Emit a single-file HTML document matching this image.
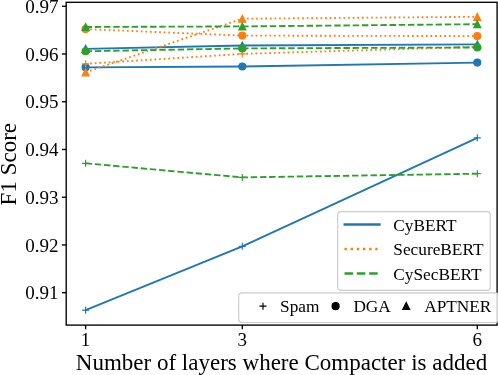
<!DOCTYPE html>
<html><head><meta charset="utf-8"><style>
html,body{margin:0;padding:0;background:#fff;}
svg{display:block;will-change:transform;}
text{font-family:"Liberation Serif",serif;fill:#000;}
.tk{font-size:19px;}
.lb{font-size:23px;}
.lg{font-size:17.3px;}
</style></head><body>
<svg width="498" height="375" viewBox="0 0 498 375">
<defs><clipPath id="ax"><rect x="66.2" y="2.3" width="430.90000000000003" height="322.8"/></clipPath></defs>
<rect width="498" height="375" fill="#fff"/>
<g clip-path="url(#ax)">
<path d="M85.60 310.20 L242.30 246.30 L477.30 137.80" fill="none" stroke="#1f77b4" stroke-width="1.85" stroke-linejoin="round"/>
<path d="M82.10 310.20H89.10M85.60 306.70V313.70" stroke="#1f77b4" stroke-width="1.17" fill="none"/>
<path d="M238.80 246.30H245.80M242.30 242.80V249.80" stroke="#1f77b4" stroke-width="1.17" fill="none"/>
<path d="M473.80 137.80H480.80M477.30 134.30V141.30" stroke="#1f77b4" stroke-width="1.17" fill="none"/>
<path d="M85.60 67.30 L242.30 66.50 L477.30 62.60" fill="none" stroke="#1f77b4" stroke-width="1.85" stroke-linejoin="round"/>
<circle cx="85.60" cy="67.30" r="3.50" fill="#1f77b4" stroke="#1f77b4" stroke-width="1.17"/>
<circle cx="242.30" cy="66.50" r="3.50" fill="#1f77b4" stroke="#1f77b4" stroke-width="1.17"/>
<circle cx="477.30" cy="62.60" r="3.50" fill="#1f77b4" stroke="#1f77b4" stroke-width="1.17"/>
<path d="M85.60 48.80 L242.30 45.50 L477.30 44.40" fill="none" stroke="#1f77b4" stroke-width="1.85" stroke-linejoin="round"/>
<path d="M85.60 45.30L82.10 52.30L89.10 52.30Z" fill="#1f77b4" stroke="#1f77b4" stroke-width="1.17" stroke-linejoin="miter"/>
<path d="M242.30 42.00L238.80 49.00L245.80 49.00Z" fill="#1f77b4" stroke="#1f77b4" stroke-width="1.17" stroke-linejoin="miter"/>
<path d="M477.30 40.90L473.80 47.90L480.80 47.90Z" fill="#1f77b4" stroke="#1f77b4" stroke-width="1.17" stroke-linejoin="miter"/>
<path d="M85.60 63.80 L242.30 53.90 L477.30 46.80" fill="none" stroke="#ff7f0e" stroke-width="1.85" stroke-dasharray="1.74 2.86" stroke-linejoin="round"/>
<path d="M82.10 63.80H89.10M85.60 60.30V67.30" stroke="#ff7f0e" stroke-width="1.17" fill="none"/>
<path d="M238.80 53.90H245.80M242.30 50.40V57.40" stroke="#ff7f0e" stroke-width="1.17" fill="none"/>
<path d="M473.80 46.80H480.80M477.30 43.30V50.30" stroke="#ff7f0e" stroke-width="1.17" fill="none"/>
<path d="M85.60 29.10 L242.30 35.60 L477.30 36.10" fill="none" stroke="#ff7f0e" stroke-width="1.85" stroke-dasharray="1.74 2.86" stroke-linejoin="round"/>
<circle cx="85.60" cy="29.10" r="3.50" fill="#ff7f0e" stroke="#ff7f0e" stroke-width="1.17"/>
<circle cx="242.30" cy="35.60" r="3.50" fill="#ff7f0e" stroke="#ff7f0e" stroke-width="1.17"/>
<circle cx="477.30" cy="36.10" r="3.50" fill="#ff7f0e" stroke="#ff7f0e" stroke-width="1.17"/>
<path d="M85.60 72.30 L242.30 18.70 L477.30 16.80" fill="none" stroke="#ff7f0e" stroke-width="1.85" stroke-dasharray="1.74 2.86" stroke-linejoin="round"/>
<path d="M85.60 68.80L82.10 75.80L89.10 75.80Z" fill="#ff7f0e" stroke="#ff7f0e" stroke-width="1.17" stroke-linejoin="miter"/>
<path d="M242.30 15.20L238.80 22.20L245.80 22.20Z" fill="#ff7f0e" stroke="#ff7f0e" stroke-width="1.17" stroke-linejoin="miter"/>
<path d="M477.30 13.30L473.80 20.30L480.80 20.30Z" fill="#ff7f0e" stroke="#ff7f0e" stroke-width="1.17" stroke-linejoin="miter"/>
<path d="M85.60 163.30 L242.30 177.40 L477.30 173.70" fill="none" stroke="#2ca02c" stroke-width="1.85" stroke-dasharray="6.45 2.76" stroke-linejoin="round"/>
<path d="M82.10 163.30H89.10M85.60 159.80V166.80" stroke="#2ca02c" stroke-width="1.17" fill="none"/>
<path d="M238.80 177.40H245.80M242.30 173.90V180.90" stroke="#2ca02c" stroke-width="1.17" fill="none"/>
<path d="M473.80 173.70H480.80M477.30 170.20V177.20" stroke="#2ca02c" stroke-width="1.17" fill="none"/>
<path d="M85.60 51.25 L242.30 48.40 L477.30 47.45" fill="none" stroke="#2ca02c" stroke-width="1.85" stroke-dasharray="6.45 2.76" stroke-linejoin="round"/>
<circle cx="85.60" cy="51.25" r="3.50" fill="#2ca02c" stroke="#2ca02c" stroke-width="1.17"/>
<circle cx="242.30" cy="48.40" r="3.50" fill="#2ca02c" stroke="#2ca02c" stroke-width="1.17"/>
<circle cx="477.30" cy="47.45" r="3.50" fill="#2ca02c" stroke="#2ca02c" stroke-width="1.17"/>
<path d="M85.60 27.00 L242.30 26.40 L477.30 24.20" fill="none" stroke="#2ca02c" stroke-width="1.85" stroke-dasharray="6.45 2.76" stroke-linejoin="round"/>
<path d="M85.60 23.50L82.10 30.50L89.10 30.50Z" fill="#2ca02c" stroke="#2ca02c" stroke-width="1.17" stroke-linejoin="miter"/>
<path d="M242.30 22.90L238.80 29.90L245.80 29.90Z" fill="#2ca02c" stroke="#2ca02c" stroke-width="1.17" stroke-linejoin="miter"/>
<path d="M477.30 20.70L473.80 27.70L480.80 27.70Z" fill="#2ca02c" stroke="#2ca02c" stroke-width="1.17" stroke-linejoin="miter"/>
</g>
<rect x="66.2" y="2.3" width="430.90000000000003" height="322.8" fill="none" stroke="#000" stroke-width="1.35"/>
<line x1="61.900000000000006" y1="6.25" x2="66.2" y2="6.25" stroke="#000" stroke-width="1.35"/>
<text x="58.6" y="12.85" text-anchor="end" class="tk">0.97</text>
<line x1="61.900000000000006" y1="53.99" x2="66.2" y2="53.99" stroke="#000" stroke-width="1.35"/>
<text x="58.6" y="60.59" text-anchor="end" class="tk">0.96</text>
<line x1="61.900000000000006" y1="101.73" x2="66.2" y2="101.73" stroke="#000" stroke-width="1.35"/>
<text x="58.6" y="108.33" text-anchor="end" class="tk">0.95</text>
<line x1="61.900000000000006" y1="149.47" x2="66.2" y2="149.47" stroke="#000" stroke-width="1.35"/>
<text x="58.6" y="156.07" text-anchor="end" class="tk">0.94</text>
<line x1="61.900000000000006" y1="197.21" x2="66.2" y2="197.21" stroke="#000" stroke-width="1.35"/>
<text x="58.6" y="203.81" text-anchor="end" class="tk">0.93</text>
<line x1="61.900000000000006" y1="244.95" x2="66.2" y2="244.95" stroke="#000" stroke-width="1.35"/>
<text x="58.6" y="251.55" text-anchor="end" class="tk">0.92</text>
<line x1="61.900000000000006" y1="292.69" x2="66.2" y2="292.69" stroke="#000" stroke-width="1.35"/>
<text x="58.6" y="299.29" text-anchor="end" class="tk">0.91</text>
<line x1="85.6" y1="325.1" x2="85.6" y2="329.3" stroke="#000" stroke-width="1.35"/>
<text x="85.6" y="345.9" text-anchor="middle" class="tk">1</text>
<line x1="242.3" y1="325.1" x2="242.3" y2="329.3" stroke="#000" stroke-width="1.35"/>
<text x="242.3" y="345.9" text-anchor="middle" class="tk">3</text>
<line x1="477.3" y1="325.1" x2="477.3" y2="329.3" stroke="#000" stroke-width="1.35"/>
<text x="477.3" y="345.9" text-anchor="middle" class="tk">6</text>
<text x="281.5" y="370.1" text-anchor="middle" class="lb">Number of layers where Compacter is added</text>
<text transform="translate(15.7,164.2) rotate(-90)" text-anchor="middle" class="lb">F1 Score</text>
<rect x="337.7" y="211.7" width="152.6" height="78.6" rx="3.4" fill="#fff" fill-opacity="0.8" stroke="#cccccc" stroke-width="1.17"/>
<line x1="343.5" y1="224.50" x2="380.7" y2="224.50" stroke="#1f77b4" stroke-width="2.33"/>
<text x="393.3" y="230.90" class="lg">CyBERT</text>
<line x1="344.5" y1="249.00" x2="380.7" y2="249.00" stroke="#ff7f0e" stroke-width="2.33" stroke-dasharray="2.4 3.75"/>
<text x="393.3" y="255.40" class="lg">SecureBERT</text>
<line x1="344.5" y1="273.50" x2="380.7" y2="273.50" stroke="#2ca02c" stroke-width="2.33" stroke-dasharray="8.5 3.85"/>
<text x="393.3" y="279.90" class="lg">CySecBERT</text>
<rect x="238.7" y="292.8" width="260.0" height="29.7" rx="3.4" fill="#fff" fill-opacity="0.8" stroke="#cccccc" stroke-width="1.17"/>
<path d="M259.50 306.20H266.50M263.00 302.70V309.70" stroke="#000" stroke-width="1.17" fill="none"/>
<text x="280.1" y="311.6" class="lg">Spam</text>
<circle cx="335.60" cy="306.20" r="3.50" fill="#000" stroke="#000" stroke-width="1.17"/>
<text x="353.4" y="311.6" class="lg">DGA</text>
<path d="M406.20 302.50L402.70 309.50L409.70 309.50Z" fill="#000" stroke="#000" stroke-width="1.17" stroke-linejoin="miter"/>
<text x="424.2" y="311.6" class="lg">APTNER</text>
</svg>
</body></html>
